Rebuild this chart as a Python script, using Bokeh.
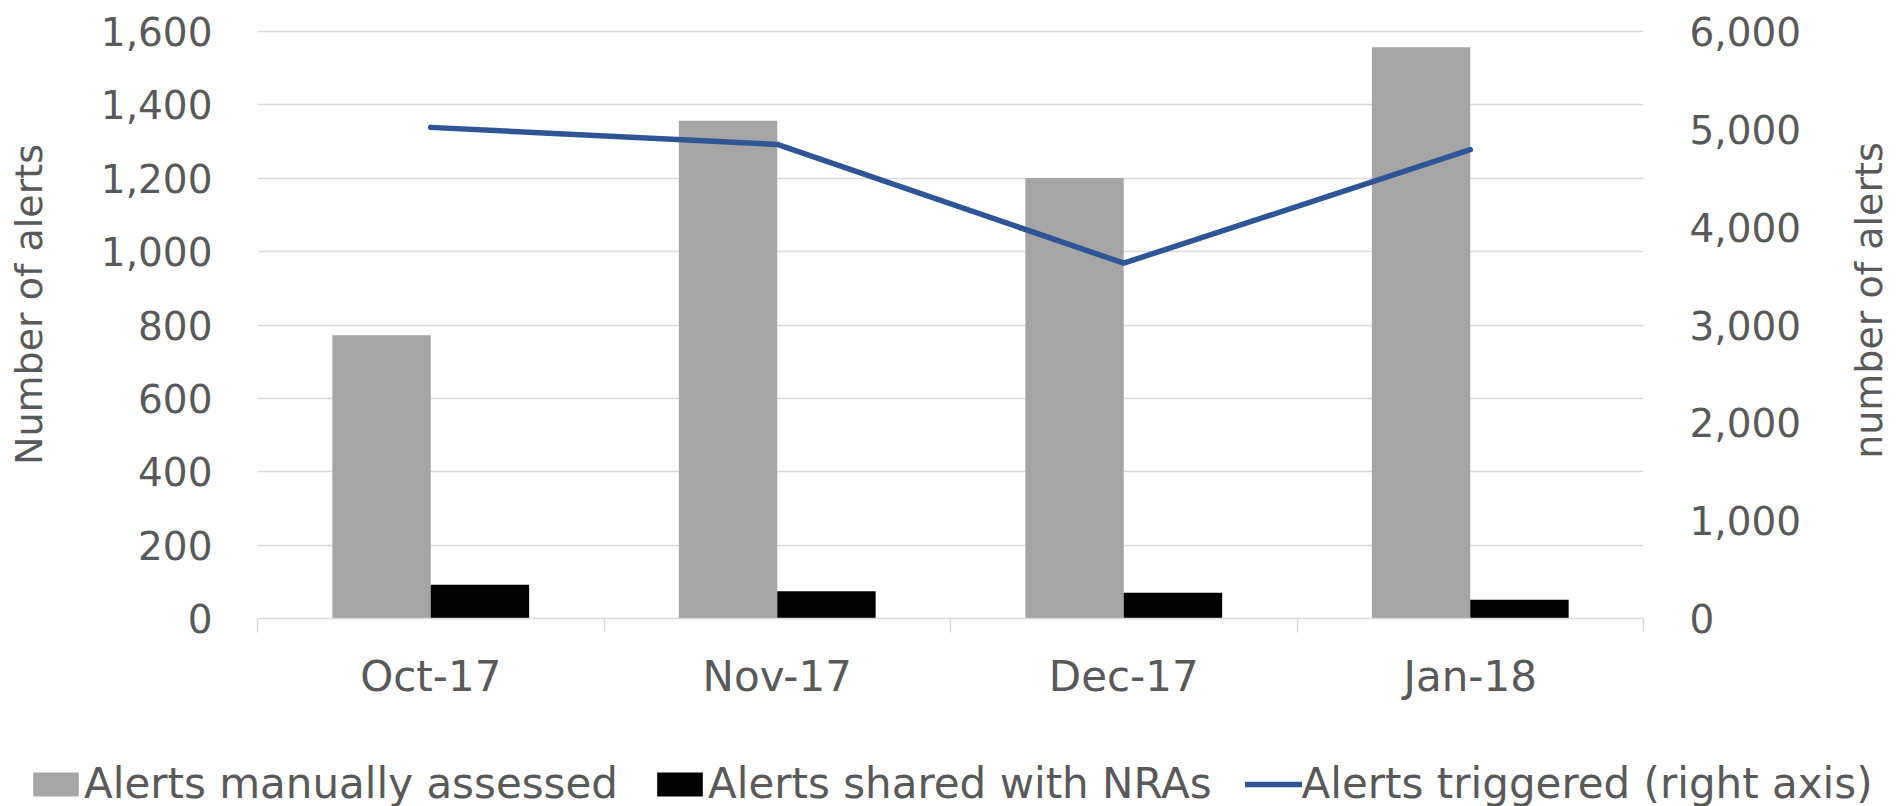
import math
from bokeh.plotting import figure
from bokeh.layouts import row
from bokeh.models import (Range1d, LinearAxis, FixedTicker, NumeralTickFormatter,
                          Legend, LegendItem, Label)
from bokeh.embed import file_html
from bokeh.resources import INLINE

# ---- data ----
months = ["Oct-17", "Nov-17", "Dec-17", "Jan-18"]
manually_assessed = [772, 1357, 1201, 1557]
shared_with_nras = [92, 74, 70, 51]
triggered = [5020, 4846, 3632, 4792]
left_ticks = [0, 200, 400, 600, 800, 1000, 1200, 1400, 1600]
right_ticks = [0, 1000, 2000, 3000, 4000, 5000, 6000]
series_names = ["Alerts manually assessed", "Alerts shared with NRAs",
                "Alerts triggered (right axis)"]
left_title = "Number of alerts"
right_title = "number of alerts"

# ---- style / layout (page pixels) ----
FONT = "DejaVu Sans"
TXT = "#595959"
GRID = "#D9D9D9"
GRAY = "#A5A5A5"
BLACK = "#000000"
BLUE = "#2F5597"
BAR_W = 0.284
W = 1901
H_MAIN = 740
H_LEG = 66
FRAME_L, FRAME_R, FRAME_T, FRAME_B = 257, 1643, 31, 618
PAD_T = 2                      # a little room so the top gridline is fully visible
P_TOP = FRAME_T - PAD_T
W_LT = 60                      # strip holding the left title
W_RT = 58                      # strip holding the right title
W_P = W - W_LT - W_RT
stretch = (FRAME_B - P_TOP) / (FRAME_B - FRAME_T)

n = len(months)
centers = [i + 0.5 for i in range(n)]
x_gray = [c - BAR_W / 2 for c in centers]
x_black = [c + BAR_W / 2 for c in centers]

p = figure(width=W_P, height=H_MAIN,
           x_range=Range1d(0, n), y_range=Range1d(0, left_ticks[-1] * stretch),
           output_backend="svg", toolbar_location=None,
           min_border_left=FRAME_L - W_LT, min_border_right=W - W_RT - FRAME_R,
           min_border_top=P_TOP, min_border_bottom=H_MAIN - FRAME_B)
p.outline_line_color = None
p.background_fill_color = "white"
p.border_fill_color = "white"
p.extra_y_ranges = {"right": Range1d(0, right_ticks[-1] * stretch)}

p.xgrid.visible = False
p.ygrid.ticker = FixedTicker(ticks=left_ticks)
p.ygrid.grid_line_color = GRID
p.ygrid.grid_line_width = 1.5


def draw_series(fig, y_name):
    g = fig.vbar(x=x_gray, top=manually_assessed, width=BAR_W, bottom=0,
                 fill_color=GRAY, line_color=None)
    b = fig.vbar(x=x_black, top=shared_with_nras, width=BAR_W, bottom=0,
                 fill_color=BLACK, line_color=None)
    l = fig.line(x=centers, y=triggered, y_range_name=y_name,
                 line_color=BLUE, line_width=5.5, line_cap="round")
    return g, b, l


draw_series(p, "right")

# left axis
ya = p.yaxis[0]
ya.ticker = FixedTicker(ticks=left_ticks)
ya.formatter = NumeralTickFormatter(format="0,0")
ya.axis_line_color = None
ya.major_tick_line_color = None
ya.minor_tick_line_color = None
ya.major_label_standoff = 39
ya.major_label_text_font = FONT
ya.major_label_text_font_size = "39px"
ya.major_label_text_color = TXT

# right axis
ra = LinearAxis(y_range_name="right", ticker=FixedTicker(ticks=right_ticks),
                formatter=NumeralTickFormatter(format="0,0"))
ra.axis_line_color = None
ra.major_tick_line_color = None
ra.minor_tick_line_color = None
ra.major_label_standoff = 40
ra.major_label_text_font = FONT
ra.major_label_text_font_size = "39px"
ra.major_label_text_color = TXT
p.add_layout(ra, "right")

# x axis
xa = p.xaxis[0]
xa.ticker = FixedTicker(ticks=centers, minor_ticks=list(range(n + 1)))
xa.major_label_overrides = {c: m for c, m in zip(centers, months)}
xa.axis_line_color = GRID
xa.axis_line_width = 1.5
xa.major_tick_line_color = None
xa.minor_tick_line_color = GRID
xa.minor_tick_line_width = 1.5
xa.minor_tick_in = 0
xa.minor_tick_out = 14
xa.major_label_standoff = 19
xa.major_label_text_font = FONT
xa.major_label_text_font_size = "42px"
xa.major_label_text_color = TXT


# ---- side strips carrying the rotated axis titles (page-pixel ranges) ----
def title_strip(width, x0, text, x_anchor, y_mid):
    f = figure(width=width, height=H_MAIN,
               x_range=Range1d(x0, x0 + width), y_range=Range1d(FRAME_B, P_TOP),
               output_backend="svg", toolbar_location=None,
               x_axis_location=None, y_axis_location=None,
               min_border_left=0, min_border_right=0,
               min_border_top=P_TOP, min_border_bottom=H_MAIN - FRAME_B)
    f.outline_line_color = None
    f.grid.visible = False
    f.background_fill_color = "white"
    f.border_fill_color = "white"
    f.add_layout(Label(x=x_anchor, y=y_mid, text=text, angle=math.pi / 2,
                       text_align="center", text_baseline="alphabetic",
                       text_font=FONT, text_font_size="38px", text_color=TXT))
    return f


lt = title_strip(W_LT, 0, left_title, 28, 304)
rt = title_strip(W_RT, W - W_RT, right_title, 1868, 300)

# ---- legend strip: a plot whose visible range lies beyond the data ----
lg = figure(width=W, height=H_LEG, x_range=Range1d(0, n), y_range=Range1d(2000, 3000),
            output_backend="svg", toolbar_location=None,
            x_axis_location=None, y_axis_location=None,
            min_border_left=0, min_border_right=0, min_border_top=0, min_border_bottom=0)
lg.extra_y_ranges = {"right": Range1d(7000, 8000)}
lg.outline_line_color = None
lg.grid.visible = False
lg.border_fill_color = "white"
lg.background_fill_color = "white"
lg_gray, lg_black, lg_line = draw_series(lg, "right")

legend = Legend(items=[LegendItem(label=series_names[0], renderers=[lg_gray]),
                       LegendItem(label=series_names[1], renderers=[lg_black]),
                       LegendItem(label=series_names[2], renderers=[lg_line])],
                location=(27, -2), orientation="horizontal",
                glyph_width=57, glyph_height=30, label_standoff=0, spacing=33,
                padding=0, margin=0, border_line_color=None,
                background_fill_alpha=0,
                label_text_font=FONT, label_text_font_size="42px",
                label_text_color=TXT)
lg.add_layout(legend, "center")

top = row(lt, p, rt, spacing=0)
open("out.html", "w").write(file_html([top, lg], INLINE))
